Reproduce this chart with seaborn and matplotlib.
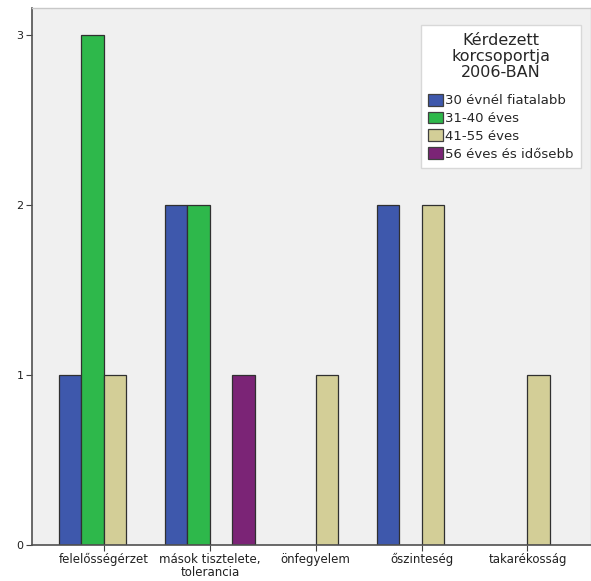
import pandas as pd
import matplotlib
matplotlib.use("Agg")
import matplotlib.pyplot as plt
import seaborn as sns

# values
categories = ["felelősségérzet", "mások tisztelete,\ntolerancia", "önfegyelem",
              "őszinteség", "takarékosság"]
age_groups = ["30 évnél fiatalabb", "31-40 éves", "41-55 éves", "56 éves és idősebb"]
counts_30 = [1, 2, 0, 2, 0]
counts_31_40 = [3, 2, 0, 0, 0]
counts_41_55 = [1, 0, 1, 2, 1]
counts_56 = [0, 1, 0, 0, 0]
colors = ["#3e58ac", "#2eb84b", "#d3ce97", "#7b2476"]

rows = []
for grp, vals in zip(age_groups, [counts_30, counts_31_40, counts_41_55, counts_56]):
    for cat, v in zip(categories, vals):
        if v > 0:
            rows.append({"kat": cat, "kor": grp, "db": v})
df = pd.DataFrame(rows)

sns.set_style("white")
plt.rcParams["font.family"] = ["DejaVu Sans"]

fig = plt.figure(figsize=(5.91, 5.81), dpi=100)
fig.patch.set_facecolor("white")
ax = fig.add_axes([0.054, 0.062, 0.946, 0.924])
ax.set_facecolor("#f0f0f0")

sns.barplot(data=df, x="kat", y="db", hue="kor", order=categories,
            hue_order=age_groups, palette=colors, width=0.85,
            edgecolor="#303030", linewidth=0.9, ax=ax, saturation=1)

ax.set_xlim(-0.68, 4.6)
ax.set_ylim(0, 3.16)
ax.set_yticks([0, 1, 2, 3])
ax.set_xlabel("")
ax.set_ylabel("")
ax.tick_params(axis="both", length=4, width=0.8, color="#404040",
               labelcolor="#202020", pad=2)
ax.tick_params(axis="x", bottom=True, labelsize=8.5)
ax.tick_params(axis="y", left=True, labelsize=8)
for lab in ax.get_xticklabels():
    lab.set_linespacing(0.95)
for side in ["left", "bottom"]:
    ax.spines[side].set_color("#505050")
    ax.spines[side].set_linewidth(1.2)
for side in ["top", "right"]:
    ax.spines[side].set_color("#c8c8c8")
    ax.spines[side].set_linewidth(1.0)

leg = ax.legend(title="Kérdezett\nkorcsoportja\n2006-BAN", loc="upper right",
                bbox_to_anchor=(0.982, 0.968), fontsize=9.5, title_fontsize=11.5,
                frameon=True, fancybox=False, handlelength=1.1, handleheight=1.0,
                handletextpad=0.2, borderpad=0.55, borderaxespad=0,
                labelspacing=0.33)
leg.get_title().set_multialignment("center")
leg.get_title().set_linespacing(1.1)
leg._legend_box.sep = 10  # a bit more room under the title
leg.get_frame().set_edgecolor("#d8d8d8")
leg.get_frame().set_facecolor("white")
leg.get_frame().set_alpha(1)
for h in leg.legend_handles:
    h.set_edgecolor("#404040")

fig.savefig("out.png", dpi=100)
